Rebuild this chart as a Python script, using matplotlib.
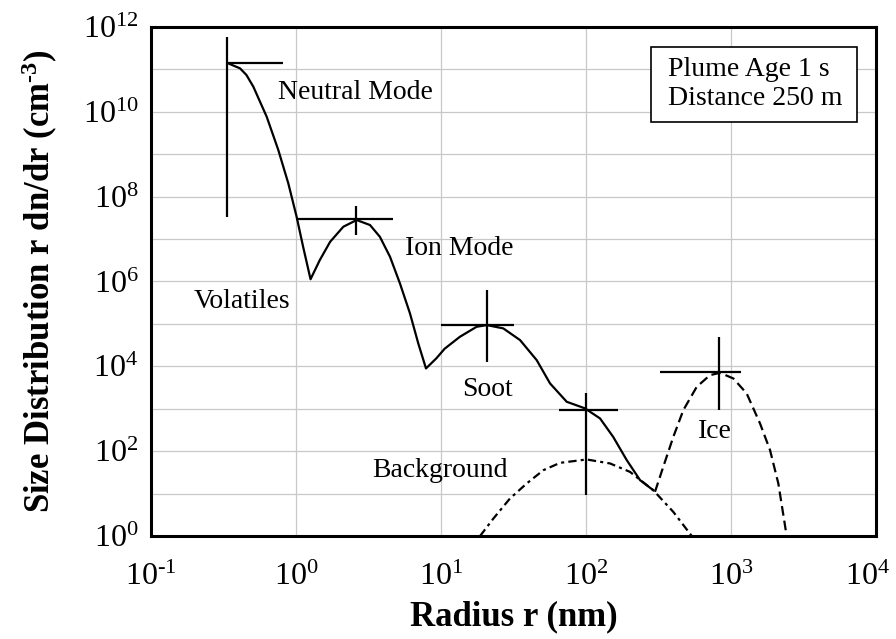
import math

import matplotlib
matplotlib.use("Agg")
import matplotlib.pyplot as plt
from matplotlib.patches import Rectangle
from matplotlib.ticker import FixedLocator, FuncFormatter, NullFormatter
from matplotlib.transforms import ScaledTranslation

plt.rcParams['font.family'] = ['Liberation Serif', 'DejaVu Serif']
plt.rcParams['mathtext.fontset'] = 'custom'
plt.rcParams['mathtext.rm'] = 'Liberation Serif'
plt.rcParams['mathtext.it'] = 'Liberation Serif:italic'
plt.rcParams['mathtext.bf'] = 'Liberation Serif:bold'
plt.rcParams['lines.scale_dashes'] = False

# total plume distribution (solid)
total_r = [0.341, 0.37, 0.411, 0.455, 0.508, 0.628, 0.755, 0.885, 1.01, 1.12, 1.26,
           1.46, 1.72, 2.12, 2.62, 3.24, 3.79, 4.45, 5.21, 6.11, 6.97, 7.88, 9.3,
           10.6, 13.5, 17.6, 20.7, 26.9, 35.1, 45.7, 56.5, 73.6, 98.4, 125, 154,
           191, 236, 291]
total_n = [1.39e11, 1.23e11, 1.06e11, 7.4e10, 3.91e10, 7.66e9, 1.26e9, 2.06e8,
           3.36e7, 6.58e6, 1.13e6, 3.20e6, 8.63e6, 1.95e7, 2.81e7, 2.14e7, 1.13e7,
           3.83e6, 9.02e5, 1.77e5, 3.47e4, 8.91e3, 1.55e4, 2.60e4, 4.97e4, 8.55e4,
           9.38e4, 7.83e4, 4.15e4, 1.40e4, 3.95e3, 1.46e3, 1.02e3, 590, 217, 61.4,
           20.7, 12.0]

# background aerosol (dash-dot)
bg_r = [18.6, 23.0, 29.9, 39.0, 50.8, 66.2, 101, 146.5, 201, 291, 400, 536]
bg_n = [1.0, 2.59, 7.66, 17.3, 35.6, 53.0, 63.7, 51.3, 32.5, 12.0, 3.70, 1.0]

# ice particles (dashed)
ice_r = [299, 341, 400, 469, 580, 716, 839, 1037, 1282, 1585, 1858, 2120, 2420]
ice_n = [11.0, 42.7, 217, 927, 3280, 6190, 7030, 5180, 2300, 450, 106, 17.3, 1.0]

# mode markers: centre, horizontal bar and vertical bar extents
mode_r = [0.336, 2.58, 20.6, 100, 830]
mode_n = [1.45e11, 2.9e7, 9.2e4, 950, 7.4e3]
mode_r_lo = [0.336, 1.0, 10, 65, 324]
mode_r_hi = [0.817, 4.7, 32, 166, 1170]
mode_n_lo = [3.4e7, 1.23e7, 1.29e4, 9.1, 933]
mode_n_hi = [5.9e11, 6.0e7, 6.3e5, 2370, 4.8e4]

x_ticks = [1e-1, 1e0, 1e1, 1e2, 1e3, 1e4]
y_ticks = [1e0, 1e2, 1e4, 1e6, 1e8, 1e10, 1e12]
y_grid = [1e1, 1e3, 1e5, 1e7, 1e9, 1e11]


def pow_label(v, pos):
    e = round(math.log10(v))
    s = str(e).replace('-', '\u2010')
    return r'$\mathregular{10^{%s}}$' % s


fig = plt.figure(figsize=(8.96, 6.39), dpi=100)
ax = fig.add_axes([0.1685, 0.1612, 0.8092, 0.7966])
ax.set_xscale('log')
ax.set_yscale('log')
ax.set_xlim(1e-1, 1e4)
ax.set_ylim(1e0, 1e12)

ax.plot(total_r, total_n, color='black', lw=1.6, solid_joinstyle='round')
ax.plot(bg_r, bg_n, color='black', lw=1.6, dashes=(6, 3, 2.2, 3))
ax.plot(ice_r, ice_n, color='black', lw=1.6, dashes=(7, 3.6))

ax.hlines(mode_n, mode_r_lo, mode_r_hi, color='black', lw=1.6)
ax.vlines(mode_r, mode_n_lo, mode_n_hi, color='black', lw=1.6)

# grid at every decade
ax.xaxis.set_major_locator(FixedLocator(x_ticks))
ax.xaxis.set_minor_locator(FixedLocator([]))
ax.yaxis.set_major_locator(FixedLocator(y_ticks))
ax.yaxis.set_minor_locator(FixedLocator(y_grid))
ax.yaxis.set_minor_formatter(NullFormatter())
ax.xaxis.set_major_formatter(FuncFormatter(pow_label))
ax.yaxis.set_major_formatter(FuncFormatter(pow_label))
ax.grid(True, which='both', color='#c8c8c8', lw=0.9)
ax.set_axisbelow(True)
ax.tick_params(which='both', length=0, labelsize=23)
ax.tick_params(axis='x', pad=19)
ax.tick_params(axis='y', pad=9)
for s in ax.spines.values():
    s.set_linewidth(2.2)

# last x label sits at the figure edge, nudge it in a little
last = ax.xaxis.get_major_ticks()[-1].label1
last.set_transform(last.get_transform() + ScaledTranslation(-6 / 72, 0, fig.dpi_scale_trans))

ax.set_xlabel('Radius r (nm)', fontsize=25, fontweight='bold', labelpad=6)
ax.set_ylabel('Size Distribution r dn/dr (cm$^{\\mathbf{\u20103}}$)', fontsize=25,
              fontweight='bold', labelpad=16)

tfs = 20
ax.text(0.752, 2.9e10, 'Neutral Mode', fontsize=tfs, va='center')
ax.text(0.196, 3.3e5, 'Volatiles', fontsize=tfs, va='center')
ax.text(5.65, 6.1e6, 'Ion Mode', fontsize=tfs, va='center')
ax.text(13.9, 2.85e3, 'Soot', fontsize=tfs, va='center')
ax.text(3.37, 35.6, 'Background', fontsize=tfs, va='center')
ax.text(592, 285, 'Ice', fontsize=tfs, va='center')

ax.add_patch(Rectangle((0.690, 0.814), 0.284, 0.147, transform=ax.transAxes,
                       facecolor='white', edgecolor='black', lw=1.2, zorder=5))
ax.text(0.713, 0.916, 'Plume Age 1 s', transform=ax.transAxes, fontsize=tfs,
        va='center', zorder=6)
ax.text(0.713, 0.860, 'Distance 250 m', transform=ax.transAxes, fontsize=tfs,
        va='center', zorder=6)

fig.savefig('out.png', dpi=100)
